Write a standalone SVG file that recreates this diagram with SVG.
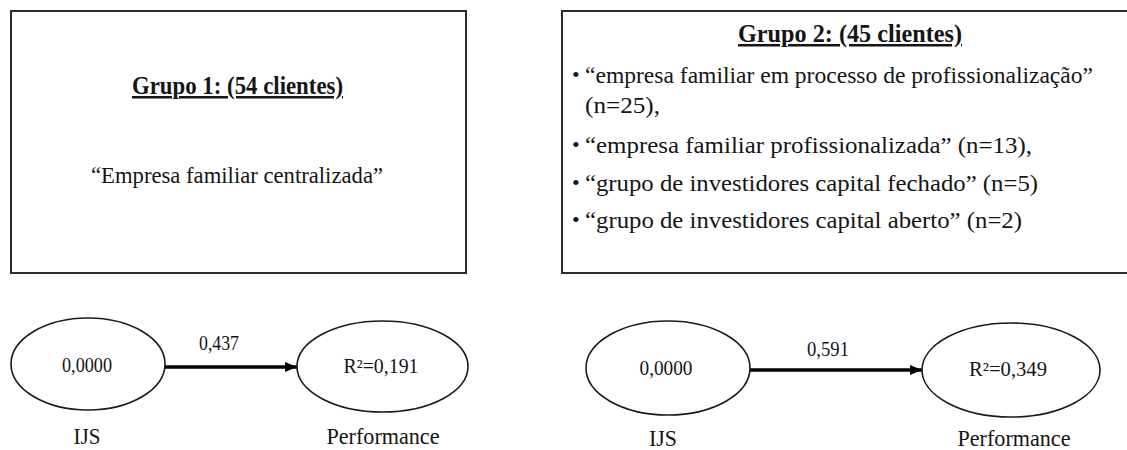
<svg xmlns="http://www.w3.org/2000/svg" width="1127" height="450" viewBox="0 0 1127 450">
  <style>
    text { font-family: "Liberation Serif", "DejaVu Serif", serif; fill: #151515; }
    .box { fill: #ffffff; stroke: #2b2b2b; stroke-width: 2; }
    .ell { fill: #ffffff; stroke: #1a1a1a; stroke-width: 1.6; }
    .title { font-size: 25px; font-weight: bold; text-decoration: underline; }
    .body { font-size: 24px; font-weight: normal; }
    .val { font-size: 20px; font-weight: normal; }
    .lbl { font-size: 24px; font-weight: normal; }
    .bul { font-size: 22px; }
    .conn { stroke: #000000; stroke-width: 3.5; fill: none; }
  </style>
  <defs>
    <marker id="ah" markerUnits="userSpaceOnUse" markerWidth="12" markerHeight="10" refX="12" refY="5" orient="auto">
      <path d="M0,0 L12,5 L0,10 z" fill="#000000"/>
    </marker>
  </defs>
  <rect width="1127" height="450" fill="#ffffff"/>

  <g id="grupo1">
    <rect class="box" x="11" y="11" width="455" height="262"/>
    <text class="title" x="237.5" y="94" text-anchor="middle" textLength="211" lengthAdjust="spacingAndGlyphs">Grupo 1: (54 clientes)</text>
    <text class="body" x="237" y="183" text-anchor="middle" textLength="292" lengthAdjust="spacingAndGlyphs">“Empresa familiar centralizada”</text>
  </g>

  <g id="grupo2">
    <rect class="box" x="562" y="11" width="580" height="262"/>
    <text class="title" x="850" y="42" text-anchor="middle" textLength="224" lengthAdjust="spacingAndGlyphs">Grupo 2: (45 clientes)</text>
    <text class="bul" x="572" y="82">•</text>
    <text class="body" x="585" y="83" textLength="508" lengthAdjust="spacingAndGlyphs">“empresa familiar em processo de profissionalização”</text>
    <text class="body" x="585" y="113" textLength="75" lengthAdjust="spacingAndGlyphs">(n=25),</text>
    <text class="bul" x="572" y="152">•</text>
    <text class="body" x="585" y="153" textLength="447" lengthAdjust="spacingAndGlyphs">“empresa familiar profissionalizada” (n=13),</text>
    <text class="bul" x="572" y="190">•</text>
    <text class="body" x="585" y="191" textLength="453" lengthAdjust="spacingAndGlyphs">“grupo de investidores capital fechado” (n=5)</text>
    <text class="bul" x="572" y="227">•</text>
    <text class="body" x="585" y="228" textLength="437" lengthAdjust="spacingAndGlyphs">“grupo de investidores capital aberto” (n=2)</text>
  </g>

  <g id="connectors">
    <line class="conn" x1="165" y1="367" x2="297" y2="367" marker-end="url(#ah)"/>
    <text class="val" x="219" y="350" text-anchor="middle" textLength="40" lengthAdjust="spacingAndGlyphs">0,437</text>
    <line class="conn" x1="750" y1="370" x2="922" y2="370" marker-end="url(#ah)"/>
    <text class="val" x="828" y="356" text-anchor="middle" textLength="42" lengthAdjust="spacingAndGlyphs">0,591</text>
  </g>

  <g id="ijs1">
    <ellipse class="ell" cx="88" cy="364" rx="77" ry="46"/>
    <text class="val" x="87" y="372" text-anchor="middle" textLength="50" lengthAdjust="spacingAndGlyphs">0,0000</text>
    <text class="lbl" x="87" y="444" text-anchor="middle" textLength="27" lengthAdjust="spacingAndGlyphs">IJS</text>
  </g>
  <g id="performance1">
    <ellipse class="ell" cx="382.5" cy="366.5" rx="85.5" ry="45.5"/>
    <text class="val" x="381" y="373" text-anchor="middle" textLength="75" lengthAdjust="spacingAndGlyphs">R²=0,191</text>
    <text class="lbl" x="383" y="444" text-anchor="middle" textLength="113" lengthAdjust="spacingAndGlyphs">Performance</text>
  </g>
  <g id="ijs2">
    <ellipse class="ell" cx="668" cy="368" rx="82" ry="47"/>
    <text class="val" x="666" y="375" text-anchor="middle" textLength="53" lengthAdjust="spacingAndGlyphs">0,0000</text>
    <text class="lbl" x="663" y="446" text-anchor="middle" textLength="28" lengthAdjust="spacingAndGlyphs">IJS</text>
  </g>
  <g id="performance2">
    <ellipse class="ell" cx="1011" cy="370" rx="89" ry="47"/>
    <text class="val" x="1008" y="376" text-anchor="middle" textLength="78" lengthAdjust="spacingAndGlyphs">R²=0,349</text>
    <text class="lbl" x="1014" y="446" text-anchor="middle" textLength="113" lengthAdjust="spacingAndGlyphs">Performance</text>
  </g>
</svg>
